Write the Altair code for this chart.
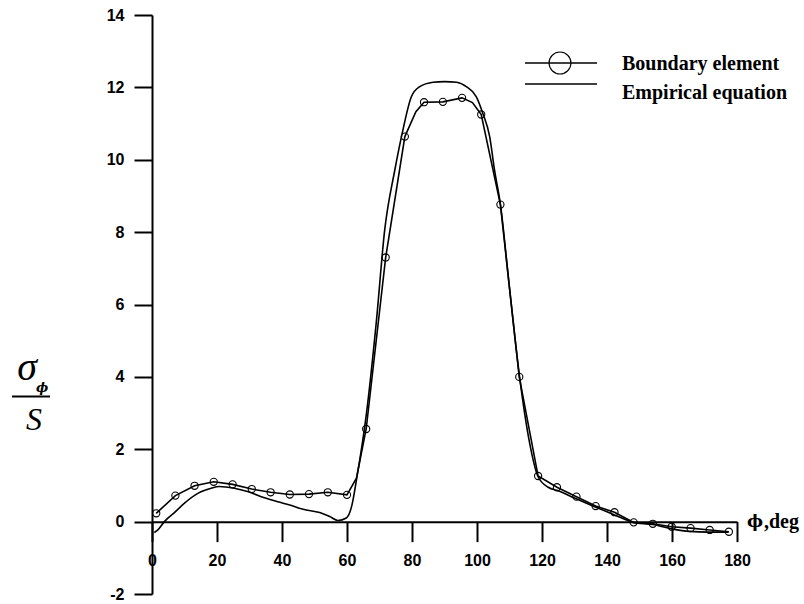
import altair as alt
import pandas as pd

# ---- data ----
# Boundary element nodes (drawn with circles)
be_x = [1.3, 7.2, 13.1, 19.0, 24.8, 30.7, 36.5, 42.4, 48.3, 54.1,
        60.0, 65.9, 71.9, 77.8, 83.7, 89.5, 95.4, 101.3, 107.2, 113.0,
        118.8, 124.6, 130.6, 136.5, 142.3, 148.2, 154.1, 159.9, 165.7, 171.6,
        177.5]
be_y = [0.23, 0.72, 0.99, 1.10, 1.03, 0.90, 0.81, 0.75, 0.76, 0.81,
        0.74, 2.56, 7.30, 10.64, 11.59, 11.60, 11.71, 11.25, 8.76, 4.00,
        1.26, 0.95, 0.69, 0.43, 0.26, -0.02, -0.06, -0.14, -0.18, -0.23,
        -0.28]
# intermediate boundary element nodes (line only, no marker)
be_mid_x = [62.9, 81.2, 98.6]
be_mid_y = [1.20, 11.33, 11.58]

# Empirical equation curve
emp_x = [0.7, 1.8, 3.8, 6.9, 10.0, 14.1, 18.2, 20.7, 25.3, 29.4,
         34.6, 38.7, 42.4, 46.5, 51.6, 54.7, 57.2, 59.8, 61.5, 63.0,
         66.0, 69.0, 71.6, 74.7, 77.2, 79.8, 82.4, 86.5, 90.0, 93.7,
         96.7, 99.8, 101.8, 103.9, 105.4, 107.2, 110.0, 113.1, 116.2, 118.8,
         121.9, 125.0, 130.0, 136.0, 142.0, 148.0, 154.0, 160.0, 165.4, 171.0,
         177.4]
emp_y = [-0.30, -0.23, 0.00, 0.25, 0.51, 0.78, 0.92, 0.97, 0.92, 0.83,
         0.66, 0.55, 0.46, 0.34, 0.25, 0.14, 0.03, 0.10, 0.45, 1.20,
         3.00, 5.50, 8.06, 9.71, 10.82, 11.74, 12.02, 12.14, 12.16, 12.14,
         12.02, 11.74, 11.28, 10.64, 9.71, 8.77, 6.45, 4.00, 2.17, 1.24,
         0.95, 0.85, 0.65, 0.42, 0.20, -0.02, -0.08, -0.20, -0.27, -0.29,
         -0.29]

x_ticks = list(range(0, 181, 10))
y_ticks = list(range(-2, 15, 1))
legend_labels = ["Boundary element", "Empirical equation"]
x_title_sym = "ϕ"
x_title_txt = ",deg"

# ---- tables ----
be_df = pd.DataFrame({"phi": be_x, "s": be_y})
line_df = pd.DataFrame({"phi": be_x + be_mid_x, "s": be_y + be_mid_y}).sort_values("phi")
emp_df = pd.DataFrame({"phi": emp_x, "s": emp_y})
one = pd.DataFrame({"k": [0]})

W, H = 585, 579
xs = alt.Scale(domain=[0, 180], nice=False, zero=False)
ys = alt.Scale(domain=[-2, 14], nice=False, zero=False)

x_axis = alt.Axis(
    values=x_ticks,
    labelExpr="datum.value % 20 === 0 ? toString(datum.value) : ''",
    tickSize={"condition": {"test": "datum.value % 20 === 0", "value": 20}, "value": 10},
    tickWidth=2, domainWidth=2, domainColor="black", tickColor="black",
    labelFont="Liberation Sans", labelFontWeight="bold", labelFontSize=16,
    labelColor="black", labelPadding=11, labelFlush=False, labelOverlap=False,
    offset=-H * 2 / 16, grid=False, title=None,
)
y_axis = alt.Axis(
    values=y_ticks,
    labelExpr="datum.value % 2 === 0 ? toString(datum.value) : ''",
    tickSize={"condition": {"test": "datum.value % 2 === 0", "value": 18}, "value": 9},
    tickWidth=2, domainWidth=2, domainColor="black", tickColor="black",
    labelFont="Liberation Sans", labelFontWeight="bold", labelFontSize=16,
    labelColor="black", labelPadding=10, labelFlush=False, labelOverlap=False,
    grid=False, title=None,
)

emp_line = alt.Chart(emp_df).mark_line(
    color="black", strokeWidth=1.6, interpolate="monotone"
).encode(
    x=alt.X("phi:Q", scale=xs, axis=x_axis),
    y=alt.Y("s:Q", scale=ys, axis=y_axis),
    order="phi:Q",
)
be_line = alt.Chart(line_df).mark_line(color="black", strokeWidth=1.6).encode(
    x=alt.X("phi:Q", scale=xs), y=alt.Y("s:Q", scale=ys), order="phi:Q"
)
be_pts = alt.Chart(be_df).mark_point(
    shape="circle", filled=False, size=52, color="black", strokeWidth=1.1, opacity=1
).encode(x=alt.X("phi:Q", scale=xs), y=alt.Y("s:Q", scale=ys))

# ---- x-axis title at the right end of the axis ----
xt_sym = alt.Chart(one).mark_text(
    align="left", baseline="middle", font="DejaVu Serif",
    fontSize=17, fontWeight="bold", color="black"
).encode(x=alt.value(W + 10), y=alt.datum(0, scale=ys), text=alt.value(x_title_sym))
xt_txt = alt.Chart(one).mark_text(
    align="left", baseline="middle", font="Liberation Serif",
    fontSize=20, fontWeight="bold", color="black"
).encode(x=alt.value(W + 27), y=alt.datum(0, scale=ys), text=alt.value(x_title_txt))

# ---- legend (drawn) ----
leg_rule1 = alt.Chart(one).mark_rule(color="black", strokeWidth=1.6).encode(
    x=alt.value(373), x2=alt.value(445), y=alt.value(48))
leg_circ = alt.Chart(one).mark_point(
    shape="circle", filled=False, size=480, color="black", strokeWidth=1.1, opacity=1
).encode(x=alt.value(408), y=alt.value(48))
leg_rule2 = alt.Chart(one).mark_rule(color="black", strokeWidth=1.6).encode(
    x=alt.value(373), x2=alt.value(445), y=alt.value(69))
leg_txt1 = alt.Chart(one).mark_text(
    align="left", baseline="alphabetic", font="Liberation Serif",
    fontSize=20, fontWeight="bold", color="black"
).encode(x=alt.value(470), y=alt.value(55), text=alt.value(legend_labels[0]))
leg_txt2 = alt.Chart(one).mark_text(
    align="left", baseline="alphabetic", font="Liberation Serif",
    fontSize=20, fontWeight="bold", color="black"
).encode(x=alt.value(470), y=alt.value(84), text=alt.value(legend_labels[1]))

# ---- y-axis label as a fraction sigma_phi / S ----
sig = alt.Chart(one).mark_text(
    align="center", baseline="middle", font="Liberation Serif",
    fontSize=40, fontStyle="italic", color="black"
).encode(x=alt.value(-125), y=alt.value(353), text=alt.value("σ"))
sub = alt.Chart(one).mark_text(
    align="left", baseline="middle", font="DejaVu Serif",
    fontSize=13, fontStyle="italic", fontWeight="bold", color="black"
).encode(x=alt.value(-116), y=alt.value(373), text=alt.value(x_title_sym))
frac = alt.Chart(one).mark_rule(color="black", strokeWidth=2).encode(
    x=alt.value(-140), x2=alt.value(-102), y=alt.value(381.5))
ess = alt.Chart(one).mark_text(
    align="center", baseline="alphabetic", font="Liberation Serif",
    fontSize=32, fontStyle="italic", color="black"
).encode(x=alt.value(-118), y=alt.value(415), text=alt.value("S"))

chart = alt.layer(
    emp_line, be_line, be_pts, xt_sym, xt_txt,
    leg_rule1, leg_circ, leg_rule2, leg_txt1, leg_txt2,
    sig, sub, frac, ess,
).properties(
    width=W, height=H,
    autosize="none",
    background="white",
    padding={"left": 152, "top": 15, "right": 67, "bottom": 10},
).configure_view(stroke=None)

chart.save("out.html", embed_options={"renderer": "svg", "actions": False})
